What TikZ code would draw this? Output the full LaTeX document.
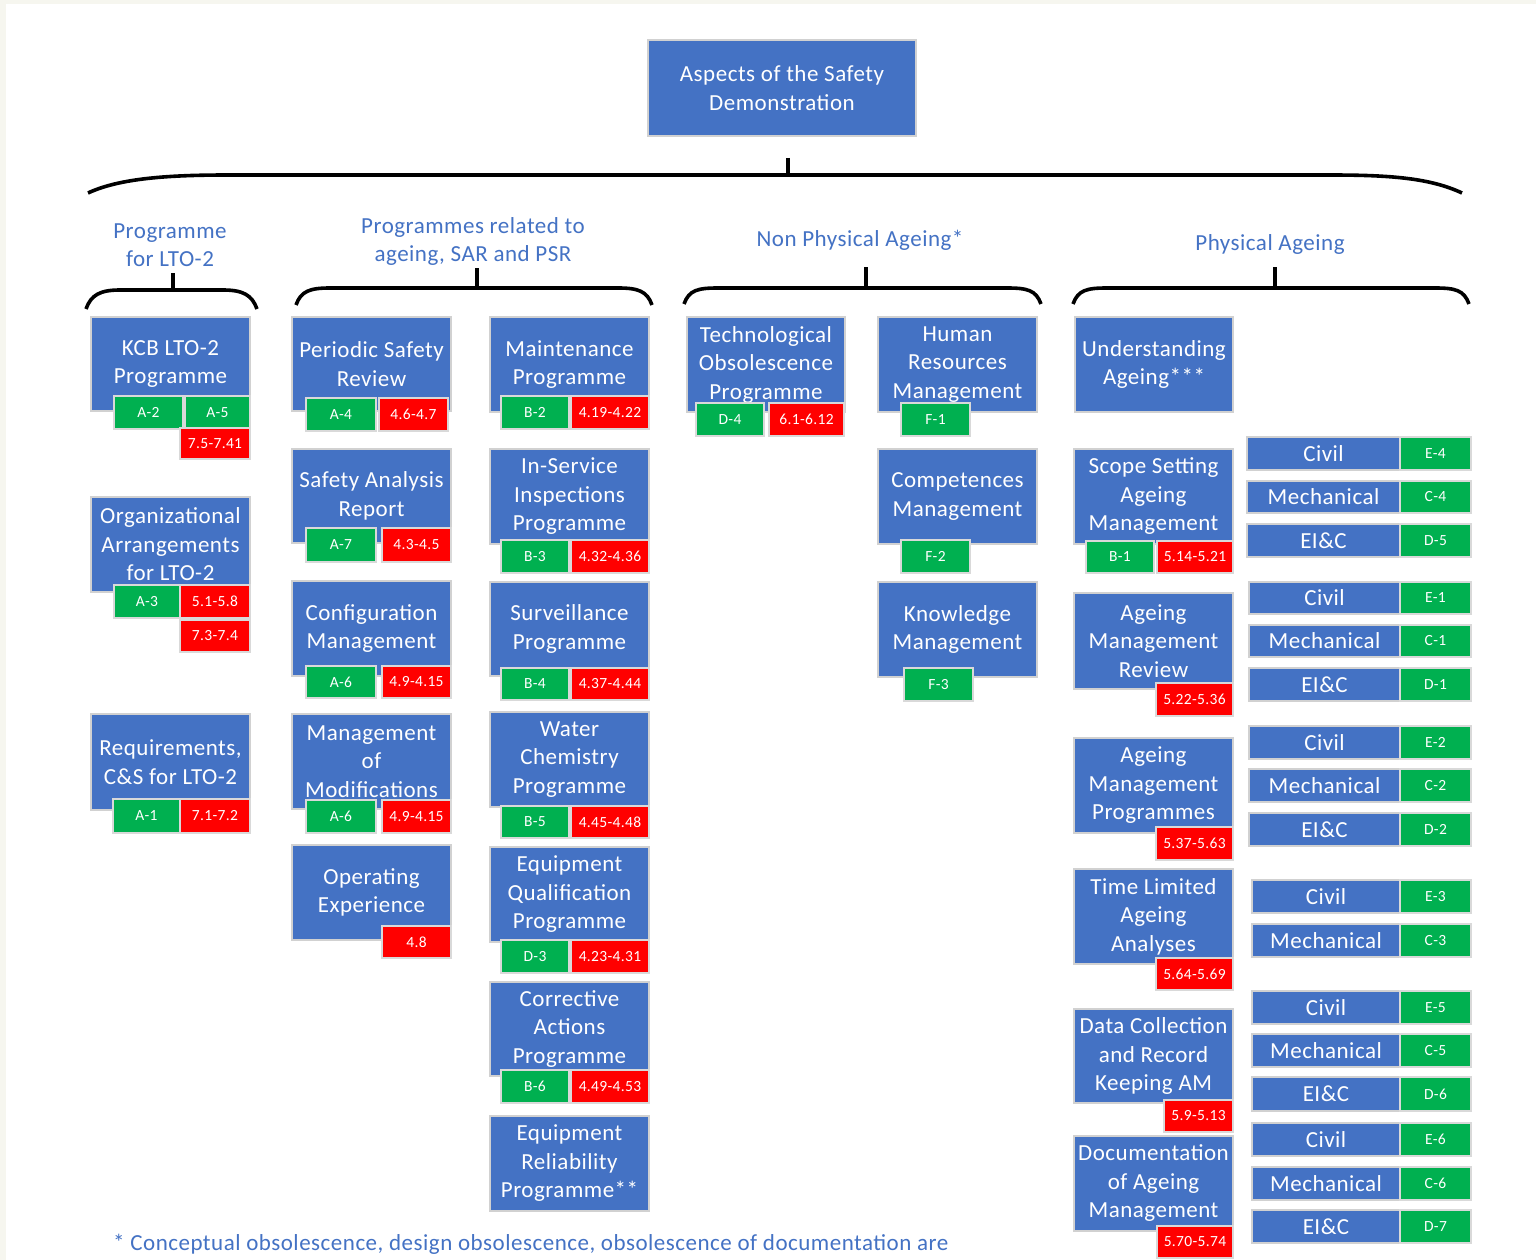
\documentclass[tikz,border=0pt]{standalone}
\usepackage{fontspec}
\setmainfont{Carlito}[LetterSpace=2.2]
\definecolor{boxblue}{HTML}{4472C4}
\definecolor{headblue}{HTML}{4472C4}
\definecolor{taggreen}{HTML}{00B050}
\definecolor{tagred}{HTML}{FF0000}
\definecolor{pagebeige}{RGB}{246,246,239}

% box with corners (x1,y1)-(x2,y2), y measured downwards
\newcommand\bx[6]{\node[blk,minimum width={#4-#2},minimum height={#5-#3}] (#1) at ({(#2+#4)/2},{(#3+#5)/2}) {#6};}
% small coloured reference tag
\newcommand\tg[7]{\node[tagbox,fill=#6,minimum width={#4-#2},minimum height={#5-#3}] (#1) at ({(#2+#4)/2},{(#3+#5)/2}) {#7};}
% discipline row: blue label from x1 to 1400, green code from 1400 to 1471
\newcommand\rw[5]{%
  \node[blk,minimum width={1400-#2},minimum height={#4-#3}] (#1) at ({(#2+1400)/2},{(#3+#4)/2}) {#5};}
\newcommand\rc[4]{%
  \node[tagbox,fill=taggreen,minimum width=71,minimum height={#3-#2}] (#1) at (1435.5,{(#2+#3)/2}) {#4};}
% curly bracket with a centre tick
\newcommand\brk[7]{%
  \coordinate (#1-l) at (#2,#6);
  \coordinate (#1-r) at (#3,#6);
  \coordinate (#1-t) at (#4,#5);
  \coordinate (#1-m) at (#4,#7);
  \draw[bracket] (#1-l) .. controls ([shift={(5,-14)}]#1-l) and ([shift={(14,-#6+#7)}]#1-l) .. ([shift={(34,-#6+#7)}]#1-l)
     -- ([shift={(-34,-#6+#7)}]#1-r) .. controls ([shift={(-14,-#6+#7)}]#1-r) and ([shift={(-5,-14)}]#1-r) .. (#1-r);
  \draw[bracket] (#1-t) -- (#1-m);}

\begin{document}
\begin{tikzpicture}[x=1pt,y=-1pt,
  blk/.style={rectangle,fill=boxblue,draw=black!18,line width=1.2pt,inner sep=0pt,
    text=white,align=center,font=\fontsize{23}{28.5}\selectfont},
  tagbox/.style={rectangle,draw=black!15,line width=1.2pt,inner sep=0pt,
    text=white,font=\fontsize{15.5}{18}\selectfont},
  head/.style={text=headblue,align=center,font=\fontsize{23}{28.5}\selectfont,inner sep=0pt},
  bracket/.style={line width=3.6pt,black}]

% page
\fill[pagebeige] (0,0) rectangle (1536,1260);
\fill[white] (6,4) rectangle (1536,1260);
\useasboundingbox (0,0) rectangle (1536,1260);

% title
\bx{root}{648}{40}{916}{136}{Aspects of the Safety\\Demonstration}

% main bracket
\coordinate (mainL) at (88,193);
\coordinate (mainR) at (1462,193);
\coordinate (mainT) at (788,158);
\coordinate (mainM) at (788,175);
\draw[bracket] (mainL) .. controls (120,178) and (170,175) .. (228,175) -- (1330,175)
   .. controls (1390,175) and (1430,178) .. (mainR);
\draw[bracket] (mainT) -- (mainM);

% group headings
\node[head] (hA) at (170,245) {Programme\\for LTO-2};
\node[head] (hB) at (473,241.5) {Programmes related to\\ageing, SAR and PSR};
\node[head] (hC) at (860,240) {Non Physical Ageing*};
\node[head] (hD) at (1270,244) {Physical Ageing};

% group brackets
\brk{bA}{86}{257}{173}{273}{309}{290}
\brk{bB}{296}{652}{477}{268}{305}{288}
\brk{bC}{684}{1041}{866}{267}{304}{288}
\brk{bD}{1073}{1469}{1275}{267}{304}{288}

% programme for LTO-2
\bx{kcb}{91}{317}{250}{411}{KCB LTO-2\\Programme}
\tg{kcb1}{114}{396}{183}{429}{taggreen}{A-2}
\tg{kcb2}{185}{396}{250}{429}{taggreen}{A-5}
\tg{kcb3}{180}{428}{250}{459}{tagred}{7.5-7.41}

\bx{org}{91}{497}{250}{592}{Organizational\\Arrangements\\for LTO-2}
\tg{org1}{114}{585}{180}{618}{taggreen}{A-3}
\tg{org2}{180}{585}{250}{618}{tagred}{5.1-5.8}
\tg{org3}{180}{620}{250}{652}{tagred}{7.3-7.4}

\bx{req}{91}{714}{250}{810}{Requirements,\\C\&S for LTO-2}
\tg{req1}{113}{799}{180}{833}{taggreen}{A-1}
\tg{req2}{180}{799}{250}{833}{tagred}{7.1-7.2}

% programmes related to ageing, SAR and PSR
\bx{psr}{292}{317}{451}{411}{Periodic Safety\\Review}
\tg{psr1}{306}{398}{376}{431}{taggreen}{A-4}
\tg{psr2}{379}{398}{448}{431}{tagred}{4.6-4.7}

\bx{sar}{292}{449}{451}{543}{Safety Analysis\\Report}
\tg{sar1}{306}{528}{376}{562}{taggreen}{A-7}
\tg{sar2}{382}{528}{451}{562}{tagred}{4.3-4.5}

\bx{cfg}{292}{581}{451}{676}{Configuration\\Management}
\tg{cfg1}{306}{666}{376}{698}{taggreen}{A-6}
\tg{cfg2}{382}{666}{451}{698}{tagred}{4.9-4.15}

\bx{mod}{292}{714}{451}{809}{Management\\of\\Modifications}
\tg{mod1}{306}{800}{376}{833}{taggreen}{A-6}
\tg{mod2}{382}{800}{451}{833}{tagred}{4.9-4.15}

\bx{opx}{292}{845}{451}{940}{Operating\\Experience}
\tg{opx1}{382}{926}{451}{958}{tagred}{4.8}

\bx{mnt}{490}{317}{649}{412}{Maintenance\\Programme}
\tg{mnt1}{501}{396}{569}{429}{taggreen}{B-2}
\tg{mnt2}{571}{396}{649}{429}{tagred}{4.19-4.22}

\bx{isi}{490}{449}{649}{544}{In-Service\\Inspections\\Programme}
\tg{isi1}{501}{540}{569}{573}{taggreen}{B-3}
\tg{isi2}{571}{540}{649}{573}{tagred}{4.32-4.36}

\bx{srv}{490}{582}{649}{676}{Surveillance\\Programme}
\tg{srv1}{501}{668}{569}{700}{taggreen}{B-4}
\tg{srv2}{571}{668}{649}{700}{tagred}{4.37-4.44}

\bx{wcp}{490}{712}{649}{807}{Water\\Chemistry\\Programme}
\tg{wcp1}{501}{806}{569}{838}{taggreen}{B-5}
\tg{wcp2}{571}{806}{649}{838}{tagred}{4.45-4.48}

\bx{eqp}{490}{847}{649}{942}{Equipment\\Qualification\\Programme}
\tg{eqp1}{501}{940}{569}{973}{taggreen}{D-3}
\tg{eqp2}{571}{940}{649}{973}{tagred}{4.23-4.31}

\bx{cap}{490}{982}{649}{1076}{Corrective\\Actions\\Programme}
\tg{cap1}{501}{1070}{569}{1103}{taggreen}{B-6}
\tg{cap2}{571}{1070}{649}{1103}{tagred}{4.49-4.53}

\bx{erp}{490}{1116}{649}{1211}{Equipment\\Reliability\\Programme**}

% non physical ageing
\bx{tob}{687}{317}{845}{412}{Technological\\Obsolescence\\Programme}
\tg{tob1}{696}{403}{764}{436}{taggreen}{D-4}
\tg{tob2}{769}{403}{844}{436}{tagred}{6.1-6.12}

\bx{hrm}{878}{317}{1037}{412}{Human\\Resources\\Management}
\tg{hrm1}{901}{403}{970}{436}{taggreen}{F-1}

\bx{cmp}{878}{449}{1037}{544}{Competences\\Management}
\tg{cmp1}{901}{540}{970}{573}{taggreen}{F-2}

\bx{kmg}{878}{582}{1037}{677}{Knowledge\\Management}
\tg{kmg1}{904}{668}{973}{701}{taggreen}{F-3}

% physical ageing
\bx{und}{1075}{317}{1233}{412}{Understanding\\Ageing***}

\bx{ssa}{1074}{449}{1233}{544}{Scope Setting\\Ageing\\Management}
\tg{ssa1}{1086}{541}{1154}{573}{taggreen}{B-1}
\tg{ssa2}{1157}{541}{1233}{573}{tagred}{5.14-5.21}

\bx{amr}{1074}{593}{1233}{689}{Ageing\\Management\\Review}
\tg{amr1}{1156}{683}{1233}{716}{tagred}{5.22-5.36}

\bx{amp}{1074}{738}{1233}{833}{Ageing\\Management\\Programmes}
\tg{amp1}{1156}{827}{1233}{860}{tagred}{5.37-5.63}

\bx{tla}{1074}{869}{1233}{964}{Time Limited\\Ageing\\Analyses}
\tg{tla1}{1156}{958}{1233}{990}{tagred}{5.64-5.69}

\bx{dcr}{1074}{1009}{1233}{1103}{Data Collection\\and Record\\Keeping AM}
\tg{dcr1}{1164}{1100}{1233}{1132}{tagred}{5.9-5.13}

\bx{doc}{1074}{1136}{1233}{1231}{Documentation\\of Ageing\\Management}
\tg{doc1}{1157}{1226}{1233}{1258}{tagred}{5.70-5.74}

% discipline rows
\rw{r1c}{1247}{437}{470}{Civil}      \rc{r1cc}{437}{470}{E-4}
\rw{r1m}{1247}{481}{513}{Mechanical} \rc{r1mc}{481}{513}{C-4}
\rw{r1e}{1247}{524}{557}{EI\&C}      \rc{r1ec}{524}{557}{D-5}

\rw{r2c}{1249}{582}{614}{Civil}      \rc{r2cc}{582}{614}{E-1}
\rw{r2m}{1249}{625}{657}{Mechanical} \rc{r2mc}{625}{657}{C-1}
\rw{r2e}{1249}{668}{701}{EI\&C}      \rc{r2ec}{668}{701}{D-1}

\rw{r3c}{1249}{726}{759}{Civil}      \rc{r3cc}{726}{759}{E-2}
\rw{r3m}{1249}{769}{802}{Mechanical} \rc{r3mc}{769}{802}{C-2}
\rw{r3e}{1249}{813}{846}{EI\&C}      \rc{r3ec}{813}{846}{D-2}

\rw{r4c}{1252}{880}{913}{Civil}      \rc{r4cc}{880}{913}{E-3}
\rw{r4m}{1252}{924}{957}{Mechanical} \rc{r4mc}{924}{957}{C-3}

\rw{r5c}{1252}{991}{1024}{Civil}      \rc{r5cc}{991}{1024}{E-5}
\rw{r5m}{1252}{1034}{1067}{Mechanical} \rc{r5mc}{1034}{1067}{C-5}
\rw{r5e}{1252}{1077}{1111}{EI\&C}      \rc{r5ec}{1077}{1111}{D-6}

\rw{r6c}{1252}{1123}{1156}{Civil}      \rc{r6cc}{1123}{1156}{E-6}
\rw{r6m}{1252}{1167}{1200}{Mechanical} \rc{r6mc}{1167}{1200}{C-6}
\rw{r6e}{1252}{1210}{1243}{EI\&C}      \rc{r6ec}{1210}{1243}{D-7}

% footnote
\node[head,anchor=west] (note) at (113,1244) {* Conceptual obsolescence, design obsolescence, obsolescence of documentation are};

\end{tikzpicture}
\end{document}
